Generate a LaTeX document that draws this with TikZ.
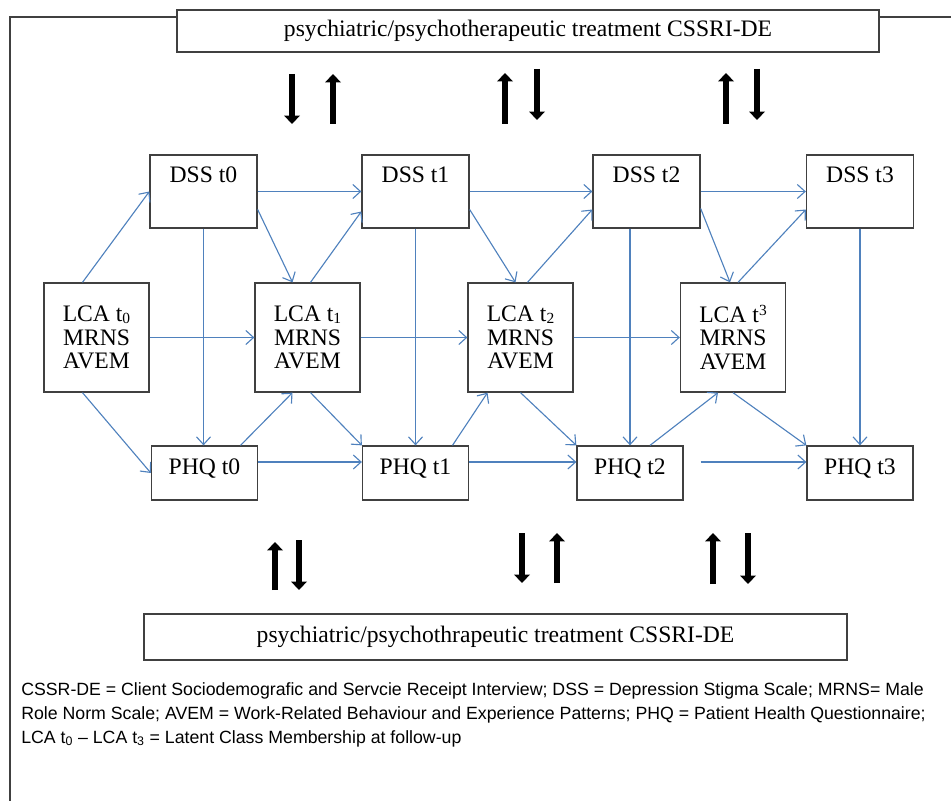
\documentclass[tikz,border=0pt]{standalone}
\usepackage{fontspec}
\setmainfont{Liberation Serif}
\setsansfont{Liberation Sans}
\usetikzlibrary{arrows.meta,calc}
\definecolor{linkblue}{RGB}{79,129,189}
\definecolor{boxgray}{RGB}{64,64,64}
\newcommand{\tsub}[1]{\raisebox{-1pt}{\fontsize{11}{11}\selectfont #1}}
\newcommand{\tsup}[1]{\raisebox{4.5pt}{\fontsize{11}{11}\selectfont #1}}

\begin{document}
\begin{tikzpicture}[
    x=0.025cm, y=-0.025cm,
    box/.style={rectangle, draw=boxgray, line width=0.9pt, fill=white, inner sep=0pt, align=center, font=\fontsize{16.8}{16.7}\selectfont},
    dss/.style={box, minimum width=2.675cm, text height=19.9pt, text depth=32pt},
    phq/.style={box, minimum width=2.65cm, text height=20.6pt, text depth=17.8pt},
    lca/.style={box, minimum width=2.625cm, minimum height=2.725cm},
    treat/.style={box, minimum width=17.55cm, minimum height=1.05cm},
    link/.style={draw=linkblue, line width=0.8pt, -{Straight Barb[length=5.5pt,width=10pt]}},
    flow/.style={line width=4.3pt, -{Triangle[width=11pt,length=6pt]}},
    note/.style={font=\sffamily\fontsize{12.6}{17.07}\selectfont, align=left, inner sep=0pt, anchor=north west}
]
\useasboundingbox (0,0) rectangle (951,801);

% frame
\draw[boxgray, line width=0.8pt] (951,17) -- (10,17) -- (10,801);

% treatment boxes
\node[treat] (treattop) at (528,31) {psychiatric/psychotherapeutic treatment CSSRI-DE};
\node[treat, minimum width=17.575cm, minimum height=1.15cm] (treatbot) at (495.5,637) {psychiatric/psychothrapeutic treatment CSSRI-DE};

% treatment arrows
\foreach \x/\a/\b in {292/74/124, 333/124/74, 505/124/73, 537/69/120, 726/124/73, 757/69/120,
                      275/590/542, 299/540/590, 522/533/583, 557/583/533, 713/584/533, 748/533/584}
  \draw[flow] (\x,\a) -- (\x,\b);

% DSS row
\node[dss] (d0) at (203.5,191.5) {DSS t0};
\node[dss] (d1) at (415.5,191.5) {DSS t1};
\node[dss] (d2) at (646.5,191.5) {DSS t2};
\node[dss] (d3) at (860,191.5) {DSS t3};

% LCA row
\node[lca] (l0) at (96.5,337.5) {LCA t\tsub{0}\\MRNS\\AVEM};
\node[lca] (l1) at (307.5,337.5) {LCA t\tsub{1}\\MRNS\\AVEM};
\node[lca] (l2) at (520.5,337.5) {LCA t\tsub{2}\\MRNS\\AVEM};
\node[lca] (l3) at (733,337.5) {LCA t\tsup{3}\\MRNS\\AVEM};

% PHQ row
\node[phq] (p0) at (204.5,473) {PHQ t0};
\node[phq] (p1) at (415.5,473) {PHQ t1};
\node[phq] (p2) at (630,473) {PHQ t2};
\node[phq] (p3) at (860,473) {PHQ t3};

% horizontal paths
\draw[link] (d0) -- (d1);
\draw[link] (d1) -- (d2);
\draw[link] (d2) -- (d3);
\draw[link] (l0) -- (l1);
\draw[link] (l1) -- (l2);
\draw[link] (l2) -- (l3);
\draw[link] ($(p0.east)+(0,-11)$) -- ($(p1.west)+(0,-11)$);
\draw[link] ($(p1.east)+(0,-11)$) -- ($(p2.west)+(0,-11)$);
\draw[link] ($(p2.east)+(17,-11)$) -- ($(p3.west)+(0,-11)$);

% vertical paths
\draw[link] (d0.south) -- (d0.south |- p0.north);
\draw[link] (d1) -- (p1);
\draw[link] (p2.north |- d2.south) -- (p2.north);
\draw[link] (d3) -- (p3);

% cross-lagged paths
\draw[link] ($(l0.north)+(-14,0)$) -- (d0.west);
\draw[link] ($(l0.south)+(-14,0)$) -- (p0.west);
\draw[link] ($(d0.east)+(0,18)$) -- ($(l1.north)+(-15,0)$);
\draw[link] ($(l1.north)+(3,0)$) -- ($(d1.west)+(0,20)$);
\draw[link] ($(p0.north)+(36,0)$) -- ($(l1.south)+(-15,0)$);
\draw[link] ($(l1.south)+(3,0)$) -- (p1.north west);
\draw[link] ($(d1.east)+(0,18)$) -- ($(l2.north)+(-5,0)$);
\draw[link] ($(l2.north)+(7,0)$) -- ($(d2.west)+(0,18)$);
\draw[link] ($(p1.north)+(37,0)$) -- ($(l2.south)+(-33,0)$);
\draw[link] (l2.south) -- (p2.north west);
\draw[link] ($(d2.east)+(0,17)$) -- ($(l3.north)+(-3,0)$);
\draw[link] ($(l3.north)+(5,0)$) -- ($(d3.west)+(0,18)$);
\draw[link] ($(p2.north)+(20,0)$) -- ($(l3.south)+(-15,0)$);
\draw[link] (l3.south) -- (p3.north west);

% legend
\node[note] (legend) at (21,682) {CSSR-DE = Client Sociodemografic and Servcie Receipt Interview; DSS = Depression Stigma Scale; MRNS= Male\\
Role Norm Scale; AVEM = Work-Related Behaviour and Experience Patterns; PHQ = Patient Health Questionnaire;\\
LCA t\textsubscript{0} – LCA t\textsubscript{3} = Latent Class Membership at follow-up};

\end{tikzpicture}
\end{document}
